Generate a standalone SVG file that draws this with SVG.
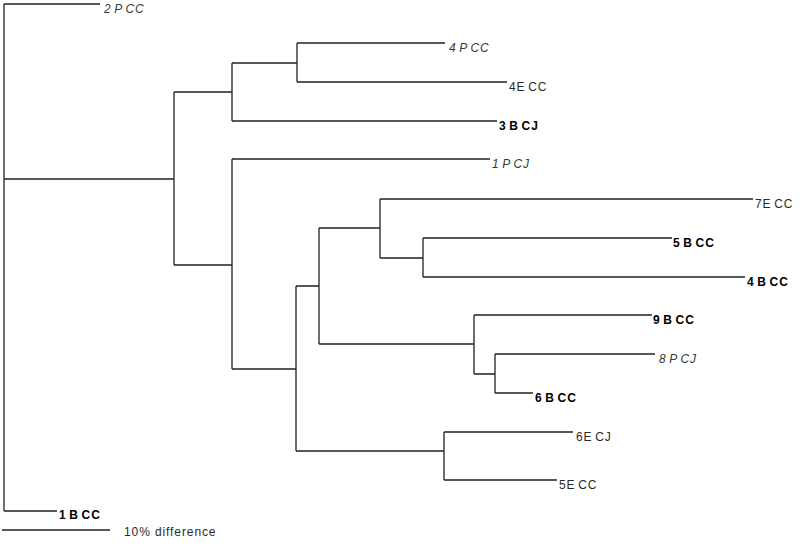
<svg xmlns="http://www.w3.org/2000/svg" width="800" height="547" viewBox="0 0 800 547">
<style>
text{font-family:"Liberation Sans",Arial,sans-serif;font-size:12px;letter-spacing:0.9px;word-spacing:-1.5px;fill:#2a2a2a}
.i{font-style:italic;fill:#3a3a3a}
.b{font-weight:bold;fill:#000}
#connectors path{stroke:#222;stroke-width:1.3;fill:none}
</style>
<rect width="800" height="547" fill="#fff"/>
<g id="connectors">
<path d="M4,4V511M4,179H174M174,92V265M174,92H232M174,265H232M232,63V121M232,63H297M297,43V82M232,159V369M232,369H296M296,286V451M296,286H319M296,451H444M319,228V344M319,228H380M319,344H474M380,199V258M380,258H423M423,238V277M474,315V374M474,374H495M495,354V393M444,432V480"/>
<path d="M4,4H100M297,43H445M297,82H507M232,121H497M232,159H490M380,199H753M423,238H672M423,277H745M474,315H652M495,354H655M495,393H533M444,432H573M444,480H557M4,511H57"/>
<path d="M2,530H110"/>
</g>
<g id="n2PCC"><text class="i" x="104" y="12.5">2 P CC</text></g>
<g id="n4PCC"><text class="i" x="449" y="51.5">4 P CC</text></g>
<g id="n4ECC"><text x="509" y="90.5">4E CC</text></g>
<g id="n3BCJ"><text class="b" x="499" y="129.5">3 B CJ</text></g>
<g id="n1PCJ"><text class="i" x="492" y="167.5">1 P CJ</text></g>
<g id="n7ECC"><text x="755" y="207.5">7E CC</text></g>
<g id="n5BCC"><text class="b" x="673" y="246.5">5 B CC</text></g>
<g id="n4BCC"><text class="b" x="747" y="285.5">4 B CC</text></g>
<g id="n9BCC"><text class="b" x="653" y="323.5">9 B CC</text></g>
<g id="n8PCJ"><text class="i" x="659" y="362.5">8 P CJ</text></g>
<g id="n6BCC"><text class="b" x="535" y="401.5">6 B CC</text></g>
<g id="n6ECJ"><text x="576" y="440.5">6E CJ</text></g>
<g id="n5ECC"><text x="559" y="488.5">5E CC</text></g>
<g id="n1BCC"><text class="b" x="59" y="519">1 B CC</text></g>
<g id="scale"><text x="124" y="536" style="word-spacing:0">10% difference</text></g>
</svg>
